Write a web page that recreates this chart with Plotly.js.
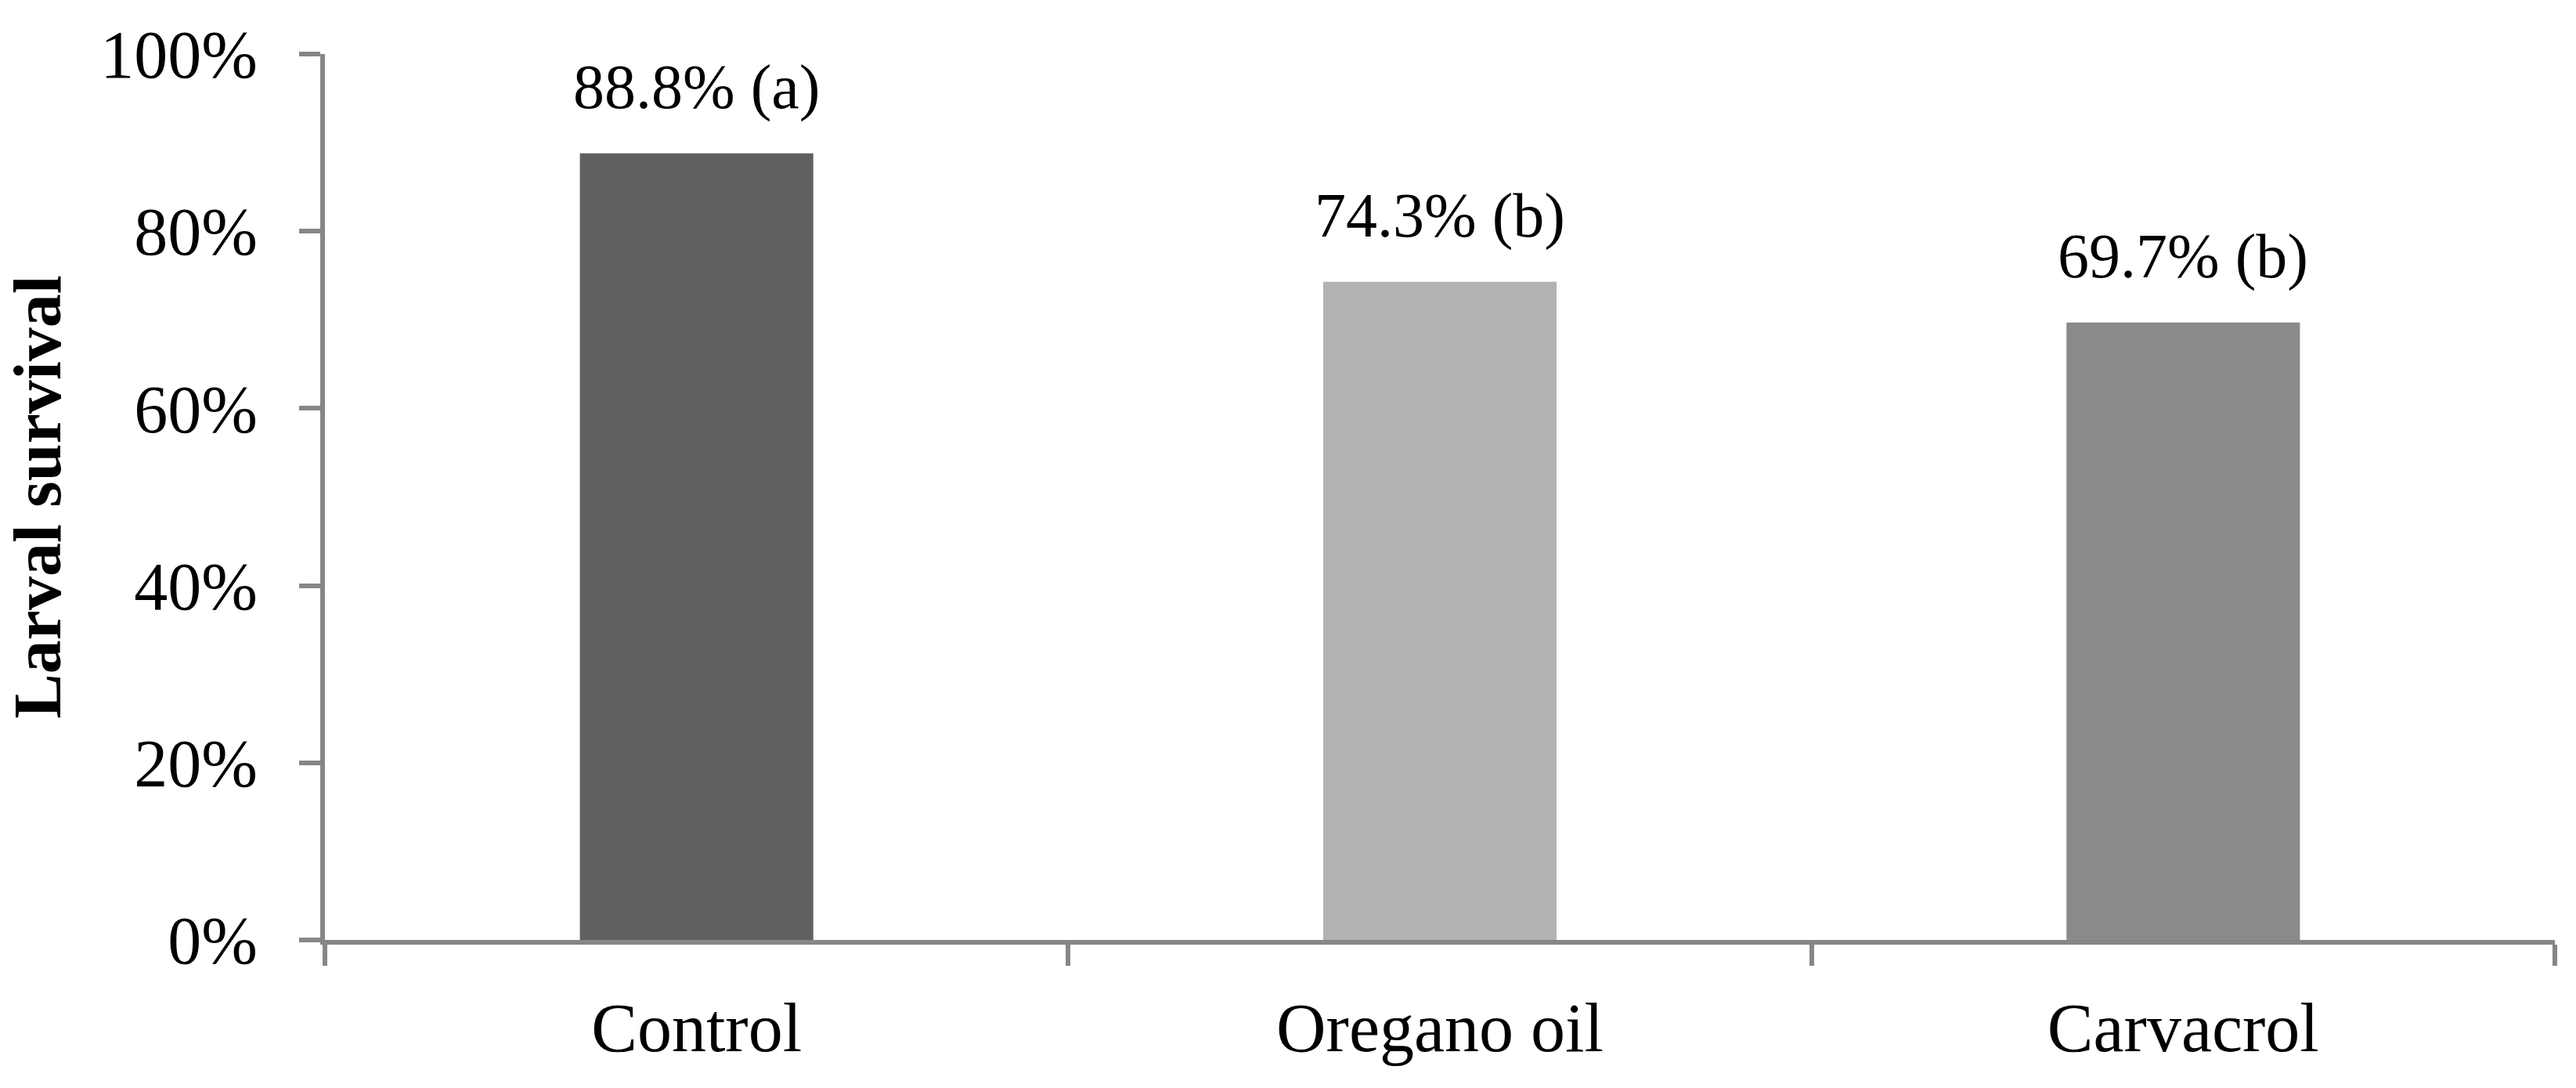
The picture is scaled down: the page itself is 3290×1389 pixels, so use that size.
<!DOCTYPE html>
<html>
<head>
<meta charset="utf-8">
<script src="https://cdn.plot.ly/plotly-3.0.1.min.js"></script>
<style>html,body{margin:0;padding:0;background:#fff;}#chart{width:3290px;height:1389px;}</style>
</head>
<body>
<div id="chart"></div>
<script>
const categories = ["Control", "Oregano oil", "Carvacrol"];
const survivalPct = [88.8, 74.3, 69.7];
const groupLetters = ["(a)", "(b)", "(b)"];
const barColors = ["#606060", "#b2b2b2", "#8a8a8a"];
const yTickVals = [0, 0.2, 0.4, 0.6, 0.8, 1.0];

const yValues = survivalPct.map(v => v / 100);
const serif = "Liberation Serif, Times New Roman, serif";

const trace = {
  type: "bar",
  x: categories,
  y: yValues,
  width: 0.314,
  marker: {color: barColors, line: {width: 0}},
  hoverinfo: "skip",
  showlegend: false
};

const annotations = categories.map((c, i) => ({
  x: c,
  y: yValues[i],
  xref: "x",
  yref: "y",
  text: survivalPct[i].toFixed(1) + "% " + groupLetters[i],
  showarrow: false,
  yanchor: "bottom",
  yshift: 38,
  font: {family: serif, size: 80, color: "#000"}
}));

const layout = {
  width: 3290,
  height: 1389,
  margin: {l: 415, r: 27, t: 69, b: 189},
  paper_bgcolor: "#fff",
  plot_bgcolor: "#fff",
  font: {family: serif, color: "#000"},
  xaxis: {
    type: "category",
    range: [-0.5, 2.5],
    showline: true,
    linecolor: "#868686",
    linewidth: 6,
    ticks: "outside",
    tickson: "boundaries",
    ticklen: 27,
    tickwidth: 6,
    tickcolor: "#868686",
    showgrid: false,
    zeroline: false,
    tickfont: {family: serif, size: 88, color: "#000"},
    ticklabelstandoff: 30,
    fixedrange: true
  },
  yaxis: {
    range: [0, 1],
    tickvals: yTickVals,
    tickformat: ".0%",
    showline: true,
    linecolor: "#868686",
    linewidth: 6,
    ticks: "outside",
    ticklen: 27,
    tickwidth: 6,
    tickcolor: "#868686",
    showgrid: false,
    zeroline: false,
    tickfont: {family: serif, size: 86, color: "#000"},
    ticklabelstandoff: 36,
    title: {text: "<b>Larval survival</b>", font: {family: serif, size: 86, color: "#000"}, standoff: 52},
    fixedrange: true
  },
  annotations: annotations,
  bargap: 0.686
};

Plotly.newPlot("chart", [trace], layout, {staticPlot: true, displayModeBar: false});
</script>
</body>
</html>
